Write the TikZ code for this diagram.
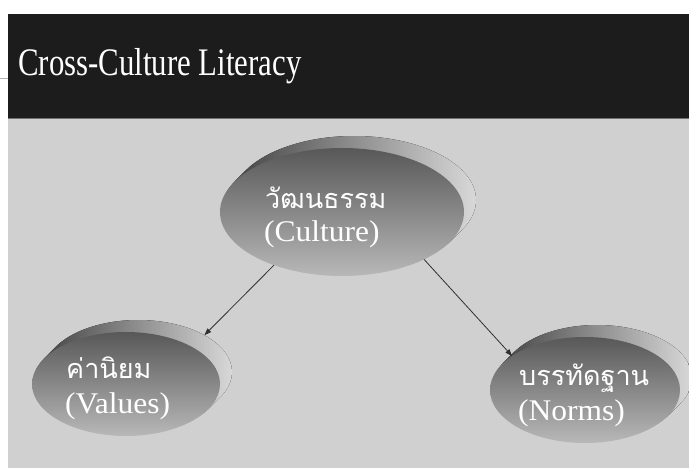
\documentclass[tikz,border=0pt]{standalone}
\usepackage{fontspec}
\setmainfont{Liberation Serif}
\newfontfamily\thaifont[Script=Thai]{Loma}
\newfontfamily\titleserif[FakeStretch=0.79]{Liberation Serif}
\newfontfamily\labelserif[FakeStretch=1.05]{Liberation Serif}
\usetikzlibrary{shapes.geometric,arrows.meta}
\definecolor{bggray}{HTML}{D0D0D0}
\definecolor{bandblack}{HTML}{1C1C1C}
\definecolor{bandedge}{HTML}{707070}
\definecolor{facetop}{HTML}{585858}
\definecolor{facebot}{HTML}{B8B8B8}
\definecolor{sidedark}{HTML}{3E3E3E}
\definecolor{sidelight}{HTML}{D8D8D8}
\definecolor{arrowgray}{HTML}{303030}
\newcommand\discbody[4]{% cx, cy, rx, ry
  \fill[left color=sidedark, right color=sidelight]
    ({#1+12},{#2-12}) ellipse [x radius=#3, y radius=#4]
    ({#1+10},{#2-10}) ellipse [x radius=#3, y radius=#4]
    ({#1+8},{#2-8}) ellipse [x radius=#3, y radius=#4]
    ({#1+6},{#2-6}) ellipse [x radius=#3, y radius=#4]
    ({#1+4},{#2-4}) ellipse [x radius=#3, y radius=#4]
    ({#1+2},{#2-2}) ellipse [x radius=#3, y radius=#4];
}
\begin{document}
\begin{tikzpicture}[x=1pt,y=-1pt,
  face/.style={ellipse, inner sep=0pt, outer sep=0pt,
    top color=facetop, bottom color=facebot},
  lbl/.style={anchor=base west, inner sep=0pt, text=white},
  thailbl/.style={lbl, font=\thaifont\fontsize{27}{30}\selectfont},
  enlbl/.style={lbl, font=\labelserif\fontsize{30}{33}\selectfont},
  link/.style={draw=arrowgray, line width=0.8pt,
    -{Triangle[length=7pt,width=5pt]}}]
\useasboundingbox (0,0) rectangle (689,468);
\fill[white] (0,0) rectangle (689,468);
\fill[bggray] (8,118) rectangle (689,468);
\fill[bandblack] (8,14) rectangle (689,118);
\draw[bandedge, line width=1.5pt] (8,118.5) -- (689,118.5);
\draw[gray!60, line width=0.6pt] (0,78) -- (8,78);
\node[lbl, font=\titleserif\fontsize{39}{42}\selectfont] (title) at (18,76) {Cross-Culture Literacy};

% discs
\discbody{342}{212}{122}{64}
\node[face, minimum width=244pt, minimum height=128pt] (culture) at (342,212) {};
\discbody{126}{384}{94}{52}
\node[face, minimum width=188pt, minimum height=104pt] (values) at (126,384) {};
\discbody{585}{390}{95}{53}
\node[face, minimum width=190pt, minimum height=106pt] (norms) at (585,390) {};

% labels
\node[thailbl] (culturethai) at (265,209) {วัฒนธรรม};
\node[enlbl] (cultureen) at (264,242) {(Culture)};
\node[thailbl] (valuesthai) at (66,378) {ค่านิยม};
\node[enlbl] (valuesen) at (65,413) {(Values)};
\node[thailbl] (normsthai) at (519,385) {บรรทัดฐาน};
\node[enlbl] (normsen) at (518,420) {(Norms)};

% connectors
\draw[link] (culture.218) -- ([shift={(12,-12)}]values.29);
\draw[link] (culture.330) -- (norms.155);
\end{tikzpicture}
\end{document}
